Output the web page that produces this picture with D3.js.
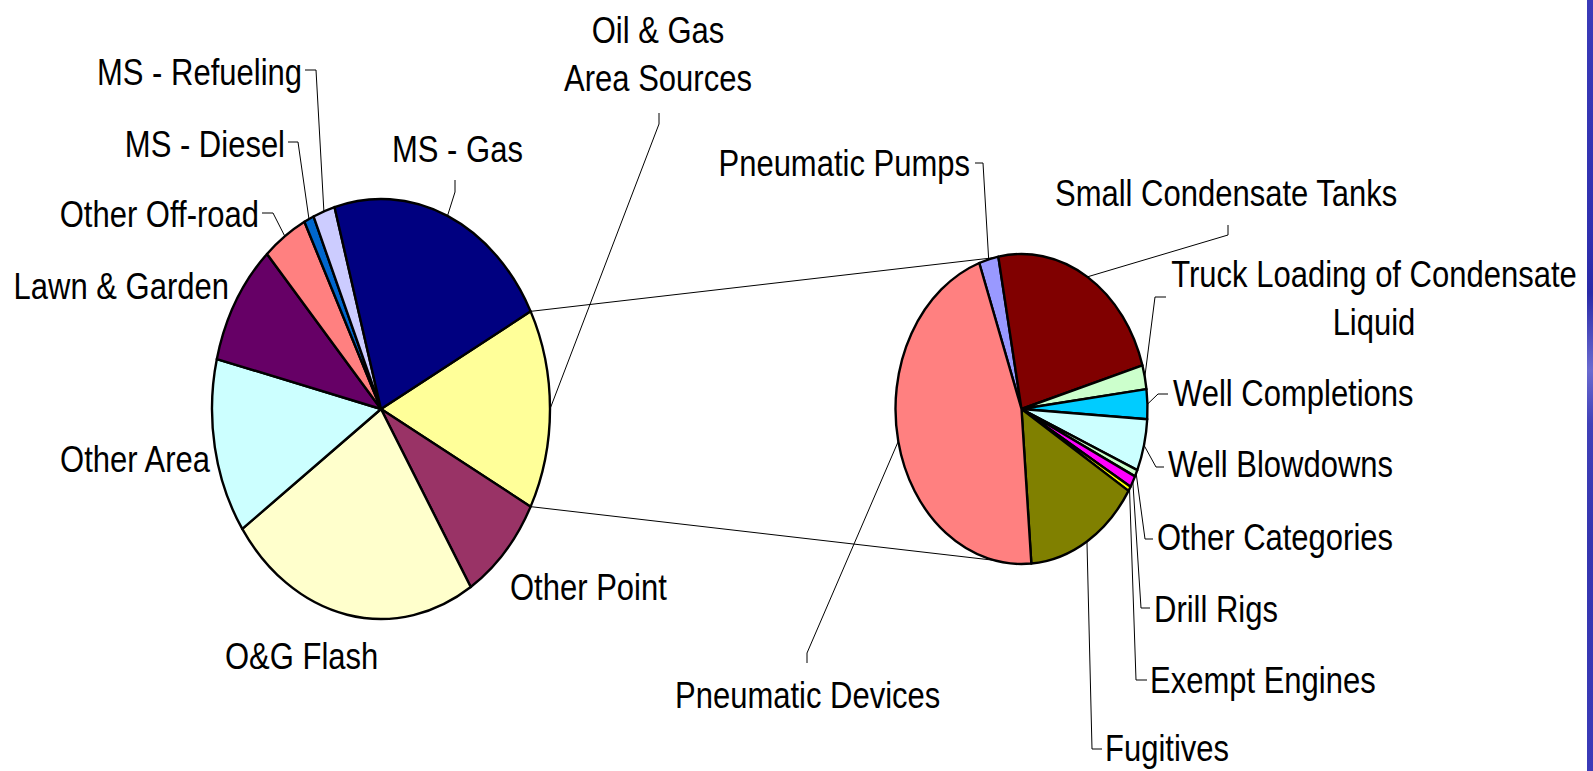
<!DOCTYPE html>
<html>
<head>
<meta charset="utf-8">
<script src="https://cdn.jsdelivr.net/npm/d3@7"></script>
<style>
  html, body { margin: 0; padding: 0; background: #fff; }
  svg { display: block; }
  text { font-family: "Liberation Sans", Arial, sans-serif; fill: #000; }
</style>
</head>
<body>
<svg id="chart" width="1593" height="771"></svg>
<script>
// ---- DATA ----
const leftCategories = ["Oil & Gas\nArea Sources", "Other Point", "O&G Flash", "Other Area", "Lawn & Garden",
  "Other Off-road", "MS - Diesel", "MS - Refueling", "MS - Gas"];
const leftValues = [15.4, 8.4, 24.25, 13.5, 9.4, 4.3, 0.95, 2.1, 21.75];
const leftColors = ["#FFFF99", "#993366", "#FFFFCC", "#CCFFFF", "#660066", "#FF8080", "#0066CC", "#CCCCFF", "#000080"];

const rightCategories = ["Pneumatic Pumps", "Small Condensate Tanks", "Truck Loading of Condensate\nLiquid",
  "Well Completions", "Well Blowdowns", "Other Categories", "Drill Rigs", "Exempt Engines", "Fugitives", "Pneumatic Devices"];
const rightValues = [2.5, 23.4, 2.5, 3.1, 5.4, 0.7, 1.2, 0.5, 14.9, 45.8];
const rightColors = ["#9999FF", "#800000", "#CCFFCC", "#00CCFF", "#CCFFFF", "#CCFFCC", "#FF00FF", "#FFFF00", "#808000", "#FF8080"];

// ---- LAYOUT ----
const L = { cx: 381, cy: 409, rx: 169, ry: 210 };
const R = { cx: 1021.5, cy: 409, rx: 126, ry: 155, start: -19.6 * Math.PI / 180 };
const fontSize = 31, stretch = 1.2, lineGap = 48;

// label layout: [x, baselineY, anchor, leader points (before pie point)]
const leftLabelLayout = [
  [658, 43, "middle", [[659, 113], [659, 124]]],
  [510, 600, "start", null],
  [225, 669, "start", null],
  [210, 472, "end", null],
  [229, 299, "end", null],
  [259, 227, "end", [[262, 213], [273, 213]]],
  [285, 157, "end", [[288, 142], [298, 142]]],
  [302, 85, "end", [[305, 70], [316, 70]]],
  [392, 162, "start", [[455, 180], [455, 192]]]
];
const rightLabelLayout = [
  [970, 176, "end", [[975, 163], [983, 163]]],
  [1055, 206, "start", [[1228, 225], [1228, 235]]],
  [1374, 287, "middle", [[1166, 297], [1155, 297]]],
  [1173, 406, "start", [[1168, 394], [1158, 394]]],
  [1168, 477, "start", [[1164, 467], [1156, 467]]],
  [1157, 550, "start", [[1153, 539], [1145, 539]]],
  [1154, 622, "start", [[1150, 608], [1141, 608]]],
  [1150, 693, "start", [[1147, 680], [1136, 680]]],
  [1105, 761, "start", [[1102, 749], [1092, 749]]],
  [675, 708, "start", [[807, 663], [807, 653]]]
];

const svg = d3.select("#chart");

// right edge decorative bar
const defs = svg.append("defs");
const grad = defs.append("linearGradient").attr("id", "barGrad").attr("x1", 0).attr("y1", 0).attr("x2", 0).attr("y2", 1);
[[0, "#3a3ab8"], [0.3, "#3030b0"], [0.38, "#2a2aa8"], [0.48, "#6a6ad0"], [0.55, "#4040b8"], [0.7, "#3535b0"], [1, "#3a3ab8"]]
  .forEach(([o, c]) => grad.append("stop").attr("offset", o).attr("stop-color", c));
svg.append("rect").attr("x", 1587).attr("y", 0).attr("width", 6).attr("height", 771).attr("fill", "url(#barGrad)");

function ellPoint(P, a) {
  return [P.cx + P.rx * Math.sin(a), P.cy - P.ry * Math.cos(a)];
}

function drawPie(P, values, colors, startAngle) {
  const pie = d3.pie().sort(null).value(d => d)
    .startAngle(startAngle).endAngle(startAngle + 2 * Math.PI);
  const arcs = pie(values);
  const arc = d3.arc().innerRadius(0).outerRadius(P.ry);
  const g = svg.append("g")
    .attr("transform", `translate(${P.cx},${P.cy}) scale(${P.rx / P.ry},1)`);
  g.selectAll("path").data(arcs).join("path")
    .attr("d", arc)
    .attr("fill", (d, i) => colors[i])
    .attr("stroke", "#000")
    .attr("stroke-width", 2.4)
    .attr("stroke-linejoin", "round")
    .attr("vector-effect", "non-scaling-stroke");
  return arcs;
}

// left pie: split slice (first) centred at 3 o'clock
const leftTotal = d3.sum(leftValues);
const leftStart = Math.PI / 2 - (leftValues[0] / leftTotal) * Math.PI;
const leftArcs = drawPie(L, leftValues, leftColors, leftStart);
const rightArcs = drawPie(R, rightValues, rightColors, R.start);

// connector lines
const split = leftArcs[0];
const topA = ellPoint(L, split.startAngle), botA = ellPoint(L, split.endAngle);
const tangentOff = 12.5 * Math.PI / 180;
const topB = ellPoint(R, -tangentOff), botB = ellPoint(R, Math.PI + tangentOff);
const conn = svg.append("g").attr("stroke", "#000").attr("stroke-width", 1).attr("fill", "none");
conn.append("line").attr("x1", topA[0]).attr("y1", topA[1]).attr("x2", topB[0]).attr("y2", topB[1]);
conn.append("line").attr("x1", botA[0]).attr("y1", botA[1]).attr("x2", botB[0]).attr("y2", botB[1]);

function drawLabels(P, arcs, cats, layout) {
  const lg = svg.append("g");
  arcs.forEach((d, i) => {
    const [x, y, anchor, leader] = layout[i];
    if (leader) {
      const mid = (d.startAngle + d.endAngle) / 2;
      const pts = leader.concat([ellPoint(P, mid)]);
      lg.append("path")
        .attr("d", d3.line()(pts))
        .attr("fill", "none").attr("stroke", "#000").attr("stroke-width", 1);
    }
    const lines = cats[i].split("\n");
    const t = lg.append("text")
      .attr("transform", `translate(${x},${y}) scale(1,${stretch})`)
      .attr("text-anchor", anchor)
      .attr("font-size", fontSize);
    lines.forEach((ln, k) => {
      t.append("tspan").attr("x", 0).attr("y", k * lineGap / stretch).text(ln);
    });
  });
}
drawLabels(L, leftArcs, leftCategories, leftLabelLayout);
drawLabels(R, rightArcs, rightCategories, rightLabelLayout);
</script>
</body>
</html>
